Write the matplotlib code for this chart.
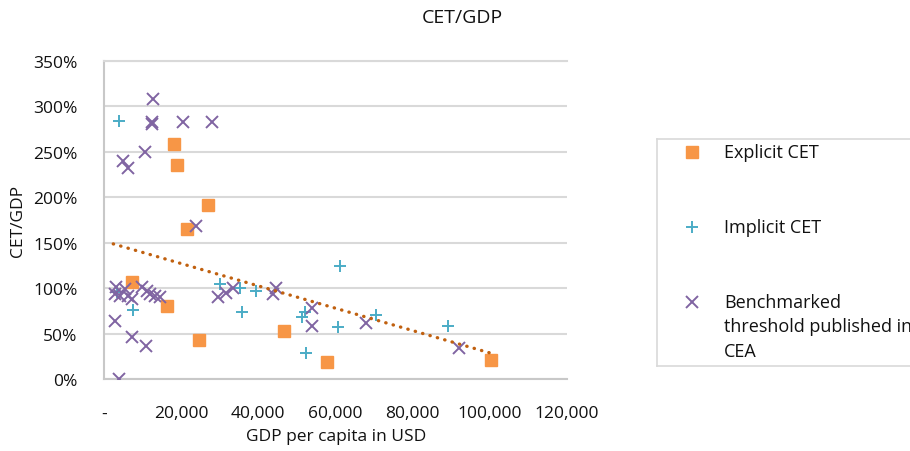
import numpy as np
import matplotlib.pyplot as plt
from matplotlib.ticker import FuncFormatter, MultipleLocator

plt.rcParams['font.family'] = ['Open Sans', 'DejaVu Sans']

# Explicit CET (GDP per capita USD, CET/GDP %)
explicit_x = [7330, 16380, 18190, 18890, 21550, 24650, 26990, 46570, 57880, 100200]
explicit_y = [106.5, 80.7, 259, 235, 165, 43.3, 192, 53.2, 18.3, 21]

# Implicit CET
implicit_x = [3960, 3440, 7580, 30190, 35190, 39500, 35870, 52000, 51400, 52260,
              61240, 60620, 70370, 89260]
implicit_y = [284, 95.5, 76, 104.6, 100, 96.4, 74, 73.4, 68, 28.6,
              124.8, 57, 70.5, 58]

# Benchmarked threshold published in CEA
bench_x = [12756, 12340, 12500, 20360, 28120, 10610, 5000, 6290, 23800,
           3100, 2850, 4140, 5430, 6290, 7170, 9750, 11040, 11900, 13190, 14490,
           2850, 7170, 10870, 3960, 29570, 31740, 33460, 44500, 43800,
           53900, 53900, 67970, 92110]
bench_y = [308, 283, 281, 283, 283, 250, 240, 232, 168,
           101, 93.6, 91.7, 99, 91.7, 88, 101, 97, 93.6, 91.7, 90,
           64, 46.6, 36.7, 0, 90, 94.7, 100, 100, 93.6,
           78, 58.7, 61.7, 33.8]

# linear trend line (end points)
trend_x = [2400, 100100]
trend_y = [148.7, 28.6]

labels = ['Explicit CET', 'Implicit CET', 'Benchmarked\nthreshold published in\nCEA']
c_exp = '#F79646'
c_imp = '#4BACC6'
c_ben = '#8064A2'
c_trend = '#C0600F'
grid_c = '#d9d9d9'
txt_c = '#111111'

fig = plt.figure(figsize=(9.1, 4.52), dpi=100)
ax = fig.add_axes([104/910, 1-380/452, (567-104)/910, (380-62)/452])

ax.plot(explicit_x, explicit_y, 's', color=c_exp, markersize=8.6, zorder=3)
ax.plot(implicit_x, implicit_y, '+', color=c_imp, markersize=8.5, mew=1.4, zorder=4)
ax.plot(bench_x, bench_y, 'x', color=c_ben, markersize=8, mew=1.4, zorder=5)
ax.plot(trend_x, trend_y, linestyle=(0, (0.1, 2.2)), dash_capstyle='round',
        color=c_trend, linewidth=2.4, zorder=6)

ax.set_xlim(0, 120000)
ax.set_ylim(0, 350)
ax.xaxis.set_major_locator(MultipleLocator(20000))
ax.yaxis.set_major_locator(MultipleLocator(50))
ax.xaxis.set_major_formatter(FuncFormatter(lambda v, p: '-' if v == 0 else f'{v:,.0f}'))
ax.yaxis.set_major_formatter(FuncFormatter(lambda v, p: f'{v:.0f}%'))
ax.tick_params(length=0, labelsize=12.5, colors=txt_c)
ax.tick_params(axis='y', pad=19)
ax.tick_params(axis='x', pad=19)
ax.grid(axis='y', color=grid_c, linewidth=1.5)
ax.set_axisbelow(True)
ax.spines['right'].set_visible(False)
ax.spines['top'].set_color(grid_c)
ax.spines['top'].set_linewidth(1.5)
for s in ['left', 'bottom']:
    ax.spines[s].set_color('#c8c8c8')
    ax.spines[s].set_linewidth(1.5)

fig.text(462/910, 1-18/452, 'CET/GDP', ha='center', va='center', fontsize=14, color=txt_c)
fig.text(18/910, 1-221/452, 'CET/GDP', ha='center', va='center', rotation=90,
         fontsize=12.5, color=txt_c)
fig.text(336/910, 1-437/452, 'GDP per capita in USD', ha='center', va='center',
         fontsize=12.5, color=txt_c)

# legend box (runs off the right edge like the original)
lg = fig.add_axes([657/910, 1-367/452, 400/910, (367-140)/452])
lg.set_xlim(0, 400)
lg.set_ylim(227, 0)
lg.set_xticks([])
lg.set_yticks([])
for s in lg.spines.values():
    s.set_color(grid_c)
    s.set_linewidth(1.2)
rows = [13, 88, 163]
styles = [dict(marker='s', color=c_exp, markersize=8.6),
          dict(marker='+', color=c_imp, markersize=8.5, mew=1.4),
          dict(marker='x', color=c_ben, markersize=8, mew=1.4)]
for r, st, lab in zip(rows, styles, labels):
    lg.plot([35], [r], linestyle='none', **st)
    for i, line in enumerate(lab.split('\n')):
        lg.text(67, r + i*24.5, line, va='center', ha='left', fontsize=13, color=txt_c)

fig.savefig('out.png', dpi=100)
